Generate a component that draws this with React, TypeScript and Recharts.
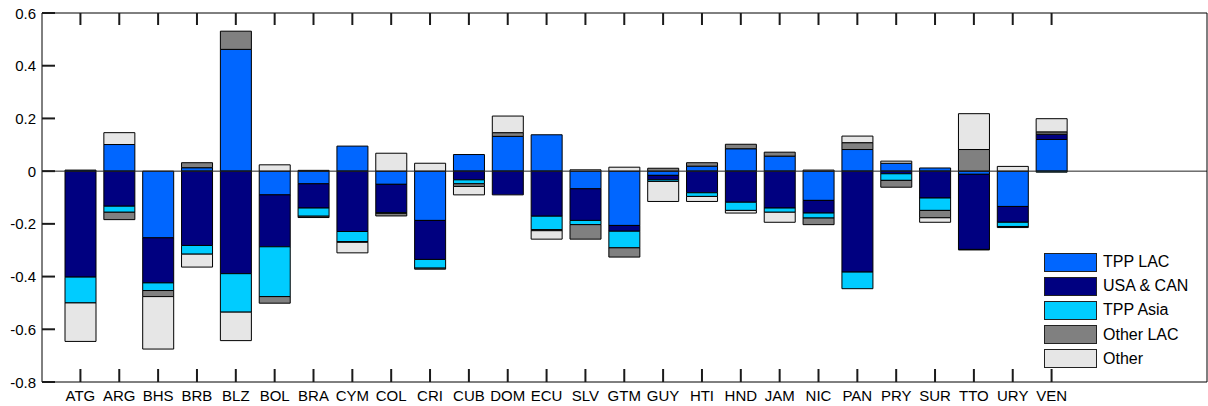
import React from 'react';
import { BarChart, Bar, XAxis, YAxis, ReferenceLine, Legend } from 'recharts';

const countries = ['ATG', 'ARG', 'BHS', 'BRB', 'BLZ', 'BOL', 'BRA', 'CYM', 'COL', 'CRI', 'CUB', 'DOM', 'ECU', 'SLV', 'GTM', 'GUY', 'HTI', 'HND', 'JAM', 'NIC', 'PAN', 'PRY', 'SUR', 'TTO', 'URY', 'VEN'];

const tppLac = [0.004, 0.101, -0.253, 0.013, 0.462, -0.09, -0.048, 0.095, -0.05, -0.187, 0.063, 0.132, 0.138, -0.067, -0.206, -0.016, 0.019, 0.085, 0.057, -0.111, 0.082, 0.03, 0.012, -0.012, -0.134, 0.12];
const usaCan = [-0.402, -0.133, -0.171, -0.282, -0.389, -0.197, -0.092, -0.229, -0.108, -0.148, -0.033, -0.09, -0.171, -0.12, -0.022, -0.017, -0.082, -0.118, -0.14, -0.048, -0.383, -0.01, -0.102, -0.285, -0.06, 0.02];
const tppAsia = [-0.098, -0.023, -0.029, -0.033, -0.146, -0.189, -0.031, -0.038, -0.002, -0.033, -0.015, 0, -0.051, -0.016, -0.063, -0.006, -0.014, -0.031, -0.016, -0.019, -0.063, -0.025, -0.047, -0.002, -0.016, -0.004];
const otherLac = [0, -0.028, -0.023, 0.019, 0.069, -0.025, -0.005, -0.003, -0.01, -0.004, -0.01, 0.014, -0.004, -0.055, -0.035, 0.011, 0.013, 0.017, 0.015, -0.025, 0.026, -0.026, -0.028, 0.082, -0.004, 0.009];
const other = [-0.146, 0.045, -0.199, -0.049, -0.108, 0.024, 0.003, -0.04, 0.068, 0.03, -0.032, 0.063, -0.032, 0.005, 0.015, -0.076, -0.019, -0.01, -0.038, 0.004, 0.025, 0.008, -0.017, 0.136, 0.018, 0.05];

const yTicks = [-0.8, -0.6, -0.4, -0.2, 0, 0.2, 0.4, 0.6];

const series = [
    { key: 'tppLac', name: 'TPP LAC', color: '#0066FF' },
    { key: 'usaCan', name: 'USA & CAN', color: '#000080' },
    { key: 'tppAsia', name: 'TPP Asia', color: '#00CCFF' },
    { key: 'otherLac', name: 'Other LAC', color: '#808080' },
    { key: 'other', name: 'Other', color: '#E6E6E6' },
];

const data = countries.map((name, i) => ({
    name,
    tppLac: tppLac[i],
    usaCan: usaCan[i],
    tppAsia: tppAsia[i],
    otherLac: otherLac[i],
    other: other[i],
}));

const FONT = '"Liberation Sans", Arial, sans-serif';
const TICK_COLOR = '#1a1a1a';
const TICK_W = 2;

const fmtY = (v: number) => (v === 0 ? '0' : v.toFixed(1));

// MATLAB box style: tick marks point inward, labels stay outside
const LeftTick = (props: any) => {
    const { x, y, payload } = props;
    return (
        <g>
            <path d={`M${x},${y}H${x + 13}`} stroke={TICK_COLOR} strokeWidth={TICK_W} />
            <text x={x - 6} y={y} textAnchor="end" dominantBaseline="central" fontSize={15} fill="#000" fontFamily={FONT}>
                {fmtY(payload.value)}
            </text>
        </g>
    );
};

const RightTick = (props: any) => {
    const { x, y } = props;
    return <path d={`M${x - 12},${y}H${x}`} stroke={TICK_COLOR} strokeWidth={TICK_W} />;
};

const BottomTick = (props: any) => {
    const { x, y, payload } = props;
    return (
        <g>
            <path d={`M${x},${y}V${y - 13}`} stroke={TICK_COLOR} strokeWidth={TICK_W} />
            <text x={x} y={y + 19} textAnchor="middle" fontSize={15} fill="#000" fontFamily={FONT}>
                {payload.value}
            </text>
        </g>
    );
};

const TopTick = (props: any) => {
    const { x, y } = props;
    return <path d={`M${x},${y}V${y + 12}`} stroke={TICK_COLOR} strokeWidth={TICK_W} />;
};

const LegendBox = () => (
    <div style={{ fontFamily: FONT, fontSize: 16, color: '#000' }}>
        {series.map(s => (
            <div key={s.key} style={{ display: 'flex', alignItems: 'center', height: 24.2 }}>
                <div style={{ width: 51, height: 17, background: s.color, border: '1px solid #222', marginRight: 6 }} />
                <span>{s.name}</span>
            </div>
        ))}
    </div>
);

export default function App() {
    return (
        <div style={{ position: 'absolute', left: 0, top: 0 }}>
            <BarChart
                width={1208}
                height={406}
                data={data}
                stackOffset="sign"
                barSize={31}
                margin={{ top: 0, right: 0, left: 0, bottom: 0 }}
            >
                <XAxis
                    dataKey="name"
                    height={24}
                    padding={{ left: 19, right: 136 }}
                    axisLine={{ stroke: '#000' }}
                    tickLine={false}
                    tickSize={0}
                    tickMargin={0}
                    interval={0}
                    tick={<BottomTick />}
                />
                <XAxis
                    xAxisId="top"
                    dataKey="name"
                    orientation="top"
                    height={13}
                    padding={{ left: 19, right: 136 }}
                    axisLine={{ stroke: '#000' }}
                    tickLine={false}
                    tickSize={0}
                    tickMargin={0}
                    interval={0}
                    tick={<TopTick />}
                />
                <YAxis
                    width={42}
                    domain={[-0.8, 0.6]}
                    ticks={yTicks}
                    axisLine={{ stroke: '#000' }}
                    tickLine={false}
                    tickSize={0}
                    tickMargin={0}
                    tick={<LeftTick />}
                />
                <YAxis
                    yAxisId="right"
                    orientation="right"
                    width={1}
                    domain={[-0.8, 0.6]}
                    ticks={yTicks}
                    axisLine={{ stroke: '#000' }}
                    tickLine={false}
                    tickSize={0}
                    tickMargin={0}
                    tick={<RightTick />}
                />
                {series.map(s => (
                    <Bar
                        key={s.key}
                        dataKey={s.key}
                        name={s.name}
                        stackId="a"
                        fill={s.color}
                        stroke="#000"
                        strokeWidth={1}
                        isAnimationActive={false}
                    />
                ))}
                <ReferenceLine y={0} stroke="#222" strokeWidth={1} />
                <Legend
                    layout="vertical"
                    align="center"
                    verticalAlign="middle"
                    content={<LegendBox />}
                    wrapperStyle={{ position: 'absolute', left: 1044, top: 250, width: 'auto', height: 'auto' }}
                />
            </BarChart>
        </div>
    );
}
